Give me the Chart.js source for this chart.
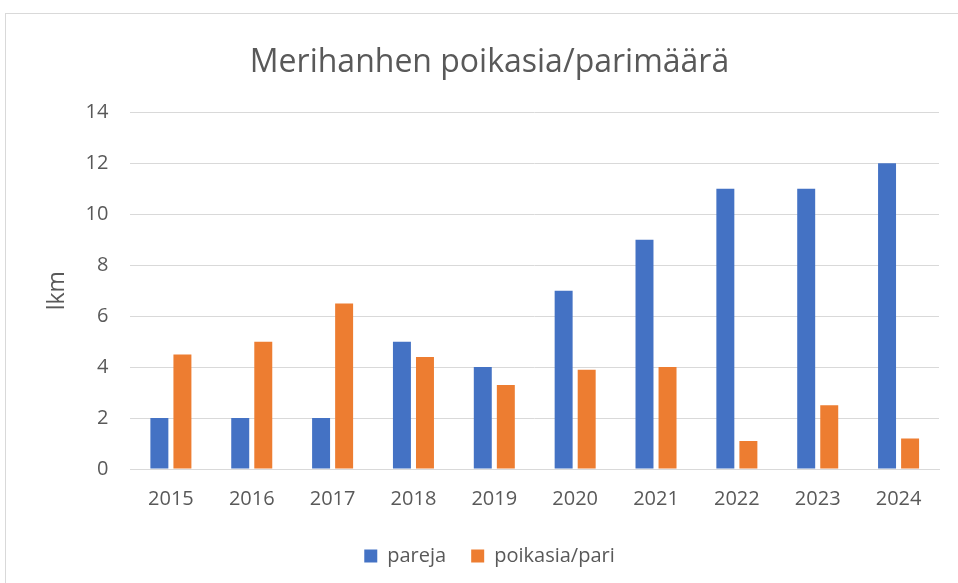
<!DOCTYPE html>
<html>
<head>
<meta charset="utf-8">
<script src="https://cdn.jsdelivr.net/npm/chart.js@4"></script>
<style>
  html, body { margin: 0; padding: 0; background: #fff; }
  #frame {
    position: absolute; left: 5px; top: 13px;
    width: 960px; height: 580px;
    border: 1px solid #d9d9d9; box-sizing: border-box;
  }
  #wrap { position: absolute; left: 0; top: 0; width: 958px; height: 583px; }
</style>
</head>
<body>
<div id="frame"></div>
<div id="wrap"><canvas id="kaavio"></canvas></div>
<script>
const vuodet = ["2015", "2016", "2017", "2018", "2019", "2020", "2021", "2022", "2023", "2024"];
const pareja = [2, 2, 2, 5, 4, 7, 9, 11, 11, 12];
const poikasiaPari = [4.5, 5, 6.5, 4.4, 3.3, 3.9, 4.0, 1.1, 2.5, 1.2];

const fontti = "'Open Sans', 'Liberation Sans', sans-serif";
const harmaa = "#595959";

let kaavio = new Chart(document.getElementById("kaavio"), {
  type: "bar",
  data: {
    labels: vuodet,
    datasets: [
      {
        label: "pareja",
        data: pareja,
        backgroundColor: "#4472C4",
        borderWidth: 0,
        barPercentage: 0.78,
        categoryPercentage: 0.57,
      },
      {
        label: "poikasia/pari",
        data: poikasiaPari,
        backgroundColor: "#ED7D31",
        borderWidth: 0,
        barPercentage: 0.78,
        categoryPercentage: 0.57,
      },
    ],
  },
  options: {
    responsive: true,
    maintainAspectRatio: false,
    animation: false,
    layout: { padding: { left: 40, right: 19, top: 44, bottom: 7 } },
    plugins: {
      title: {
        display: true,
        text: "Merihanhen poikasia/parimäärä",
        color: harmaa,
        font: { family: fontti, size: 32, weight: "normal" },
        padding: { top: 0, bottom: 30 },
      },
      legend: {
        position: "bottom",
        labels: {
          color: harmaa,
          font: { family: fontti, size: 20 },
          boxWidth: 13,
          boxHeight: 13,
          padding: 25,
        },
      },
      tooltip: { enabled: false },
    },
    scales: {
      x: {
        grid: { display: false },
        border: { display: true, color: "#d9d9d9" },
        ticks: { color: harmaa, font: { family: fontti, size: 20 }, padding: 10 },
      },
      y: {
        min: 0,
        max: 14,
        ticks: { stepSize: 2, color: harmaa, font: { family: fontti, size: 20 }, padding: 22 },
        grid: { color: "#d9d9d9", drawTicks: false },
        border: { display: false },
        title: {
          display: true,
          text: "lkm",
          color: harmaa,
          font: { family: fontti, size: 23 },
          padding: { top: 4, bottom: -8 },
        },
      },
    },
  },
});
</script>
</body>
</html>
